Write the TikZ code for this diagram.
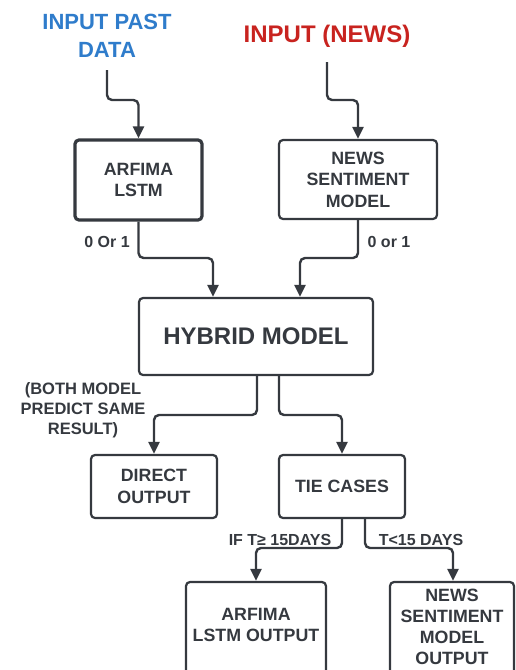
\documentclass[tikz,border=0pt]{standalone}
\usepackage{fontspec}
\setmainfont{Liberation Sans}
\usetikzlibrary{arrows.meta}
\definecolor{ink}{HTML}{35393F}
\definecolor{inblue}{HTML}{2F7CCB}
\definecolor{inred}{HTML}{C8231F}
\tikzset{
  box/.style={draw=ink, line width=2.2pt, rounded corners=4pt, text=ink,
    font=\fontsize{17.8}{21.5}\selectfont\bfseries, align=center, inner sep=0pt},
  thickbox/.style={box, line width=3.2pt},
  conn/.style={draw=ink, line width=2.4pt, rounded corners=5pt,
    -{Triangle[length=12pt,width=11pt]}},
  lbl/.style={text=ink, font=\fontsize{16}{20}\selectfont\bfseries, align=center, inner sep=0pt},
}
\begin{document}
\begin{tikzpicture}[x=1pt,y=-1pt]
\useasboundingbox (0,0) rectangle (515,670);
\clip (0,0) rectangle (515,670);
% inputs
\node[text=inblue, font=\fontsize{22}{28}\selectfont\bfseries, align=center] (pastin) at (107,36) {INPUT PAST\\DATA};
\node[text=inred, font=\fontsize{24}{28}\selectfont\bfseries] (newsin) at (327,36) {INPUT (NEWS)};
% boxes
\node[thickbox, minimum width=127pt, minimum height=80pt] (arf) at (138.5,180) {ARFIMA\\LSTM};
\node[box, minimum width=158pt, minimum height=79pt] (nsm) at (358,179.5) {NEWS\\SENTIMENT\\MODEL};
\node[box, minimum width=234pt, minimum height=77pt, font=\fontsize{24}{28}\selectfont\bfseries] (hyb) at (256,336.5) {HYBRID MODEL};
\node[box, minimum width=126pt, minimum height=63pt] (dir) at (154,486.5) {DIRECT\\OUTPUT};
\node[box, minimum width=126pt, minimum height=63pt] (tie) at (342,486.5) {TIE CASES};
\node[box, minimum width=140pt, minimum height=100pt] (aout) at (256,632) {};
\node[lbl, font=\fontsize{17.8}{21}\selectfont\bfseries] (aouttxt) at (256,625) {ARFIMA\\LSTM OUTPUT};
\node[box, minimum width=124pt, minimum height=100pt] (nout) at (452,632) {};
\node[lbl, font=\fontsize{17.8}{21}\selectfont\bfseries] (nouttxt) at (452,627) {NEWS\\SENTIMENT\\MODEL\\OUTPUT};
% coordinates
\coordinate (p1) at (107,70);
\coordinate (p2) at (327,62);
% connectors
\draw[conn] (p1) |- (123,100) -| (arf.north);
\draw[conn] (p2) |- (343,100) -| (nsm.north);
\draw[conn] (arf.south) |- (175,258) -| (hyb.north -| 213,0);
\draw[conn] (nsm.south) |- (330,258) -| (hyb.north -| 300,0);
\draw[conn] (hyb.south -| 257,0) |- (200,415) -| (dir.north);
\draw[conn] (hyb.south -| 279,0) |- (330,415) -| (tie.north);
\draw[conn] (tie.south -| 342,0) |- (300,548) -| (aout.north);
\draw[conn] (tie.south -| 365,0) |- (400,548) -| (nout.north -| 453,0);
% labels
\node[lbl] (l1) at (107,242) {0 Or 1};
\node[lbl] (l2) at (389,242) {0 or 1};
\node[lbl, font=\fontsize{16.5}{20}\selectfont\bfseries] (both) at (83,410) {(BOTH MODEL\\PREDICT SAME\\RESULT)};
\node[lbl] (l3) at (280,540) {IF T≥ 15DAYS};
\node[lbl] (l4) at (421,540) {T<15 DAYS};
\end{tikzpicture}
\end{document}
